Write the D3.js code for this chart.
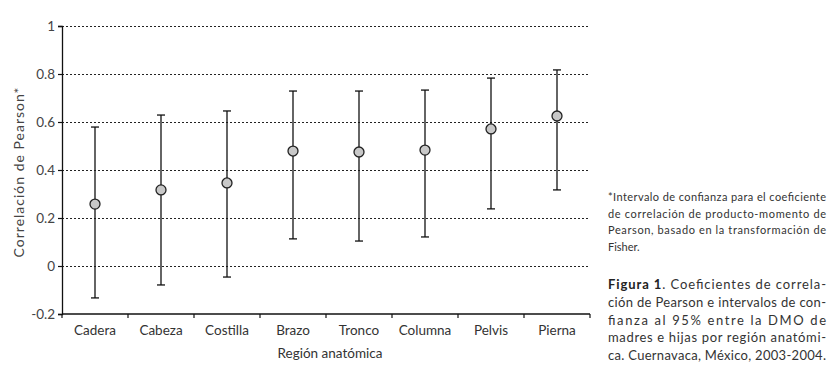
<!DOCTYPE html>
<html>
<head>
<meta charset="utf-8">
<script src="https://cdn.jsdelivr.net/npm/d3@7"></script>
<style>
  body { margin: 0; background: #fff; }
  svg { display: block; font-family: Lato, "Open Sans", sans-serif; }
</style>
</head>
<body>
<script>
var regions = ["Cadera", "Cabeza", "Costilla", "Brazo", "Tronco", "Columna", "Pelvis", "Pierna"];
var coef  = [0.258, 0.317, 0.346, 0.479, 0.475, 0.483, 0.571, 0.625];
var lower = [-0.133, -0.079, -0.046, 0.113, 0.104, 0.121, 0.238, 0.317];
var upper = [0.579, 0.629, 0.646, 0.729, 0.729, 0.733, 0.783, 0.817];
var yTicks = [-0.2, 0, 0.2, 0.4, 0.6, 0.8, 1];
var yTickLabels = ["-0.2", "0", "0.2", "0.4", "0.6", "0.8", "1"];

var noteLines = [
  "*Intervalo de confianza para el coeficiente",
  "de correlación de producto-momento de",
  "Pearson, basado en la transformación de",
  "Fisher."
];
var captionLines = [
  "Coeficientes de correla-",
  "ción de Pearson e intervalos de con-",
  "fianza al 95% entre la DMO de",
  "madres e hijas por región anatómi-",
  "ca. Cuernavaca, México, 2003-2004."
];

var width = 836, height = 372;
var margin = {left: 62, right: 246, top: 26, bottom: 58};

var svg = d3.select('body').append('svg').attr('width', width).attr('height', height);

var x = d3.scaleBand().domain(regions).range([margin.left, width - margin.right]);
var y = d3.scaleLinear().domain([-0.2, 1]).range([height - margin.bottom, margin.top]);

// dotted gridlines
svg.append('g').selectAll('line')
  .data(yTicks.filter(d => d > -0.2))
  .enter().append('line')
    .attr('x1', margin.left).attr('x2', width - margin.right)
    .attr('y1', d => y(d) + 0.5).attr('y2', d => y(d) + 0.5)
    .attr('stroke', '#222').attr('stroke-width', 1)
    .attr('stroke-dasharray', '2,2');

// y axis
var yAxis = svg.append('g').attr('transform', 'translate(' + margin.left + ',0)')
  .call(d3.axisLeft(y).tickValues(yTicks)
    .tickFormat((d, i) => yTickLabels[i]).tickSize(4).tickPadding(3));
yAxis.select('.domain').attr('stroke', '#111').attr('stroke-width', 1.3);
yAxis.selectAll('.tick line').attr('stroke', '#111').attr('stroke-width', 1.2);
yAxis.selectAll('.tick text').attr('fill', '#444').attr('font-size', 13.5).attr('font-family', 'Lato');

// x axis (ticks between categories)
var bounds = regions.map(r => x(r)).concat([width - margin.right]);
var xg = svg.append('g');
xg.append('line')
  .attr('x1', margin.left).attr('x2', width - margin.right)
  .attr('y1', y(-0.2)).attr('y2', y(-0.2))
  .attr('stroke', '#111').attr('stroke-width', 1.3);
xg.selectAll('line.tk').data(bounds).enter().append('line')
  .attr('class', 'tk')
  .attr('x1', d => d).attr('x2', d => d)
  .attr('y1', y(-0.2)).attr('y2', y(-0.2) + 4)
  .attr('stroke', '#111').attr('stroke-width', 1.2);
xg.selectAll('text').data(regions).enter().append('text')
  .attr('x', d => x(d) + x.bandwidth() / 2)
  .attr('y', y(-0.2) + 21)
  .attr('text-anchor', 'middle')
  .attr('font-size', 13.5).attr('fill', '#333')
  .text(d => d);

// axis titles
svg.append('text')
  .attr('x', (margin.left + width - margin.right) / 2 + 4)
  .attr('y', 358)
  .attr('text-anchor', 'middle')
  .attr('font-size', 13.5).attr('fill', '#333')
  .text('Región anatómica');

svg.append('text')
  .attr('transform', 'translate(24,' + (y(0.4) + 2) + ') rotate(-90)')
  .attr('text-anchor', 'middle')
  .attr('font-size', 14).attr('fill', '#444')
  .attr('letter-spacing', 1)
  .text('Correlación de Pearson*');

// error bars
var bars = svg.append('g').selectAll('g')
  .data(regions).enter().append('g')
  .attr('transform', d => 'translate(' + (x(d) + x.bandwidth() / 2) + ',0)');

bars.append('line')
  .attr('y1', (d, i) => y(lower[i])).attr('y2', (d, i) => y(upper[i]))
  .attr('stroke', '#111').attr('stroke-width', 1.3);
bars.append('line')
  .attr('x1', -4).attr('x2', 4)
  .attr('y1', (d, i) => y(upper[i])).attr('y2', (d, i) => y(upper[i]))
  .attr('stroke', '#111').attr('stroke-width', 1.3);
bars.append('line')
  .attr('x1', -4).attr('x2', 4)
  .attr('y1', (d, i) => y(lower[i])).attr('y2', (d, i) => y(lower[i]))
  .attr('stroke', '#111').attr('stroke-width', 1.3);
bars.append('circle')
  .attr('cy', (d, i) => y(coef[i]))
  .attr('r', 5)
  .attr('fill', '#c8c8c8').attr('stroke', '#222').attr('stroke-width', 1.3);

// side notes
var textX = 608, textW = 218;
var note = svg.append('g');
note.selectAll('text').data(noteLines).enter().append('text')
  .attr('x', textX)
  .attr('y', (d, i) => 201 + i * 16.5)
  .attr('font-size', 11).attr('fill', '#333')
  .attr('textLength', (d, i) => i < noteLines.length - 1 ? textW : null)
  .attr('lengthAdjust', 'spacing')
  .text(d => d);

var cap = svg.append('g');
cap.selectAll('text').data(captionLines).enter().append('text')
  .attr('x', textX)
  .attr('y', (d, i) => 289 + i * 17.8)
  .attr('font-size', 13).attr('fill', '#333')
  .attr('textLength', textW)
  .attr('lengthAdjust', 'spacing')
  .each(function(d, i) {
    var t = d3.select(this);
    if (i === 0) {
      t.append('tspan').attr('font-weight', 'bold').attr('fill', '#222').text('Figura 1');
      t.append('tspan').text('. ' + d);
    } else {
      t.text(d);
    }
  });
</script>
</body>
</html>
